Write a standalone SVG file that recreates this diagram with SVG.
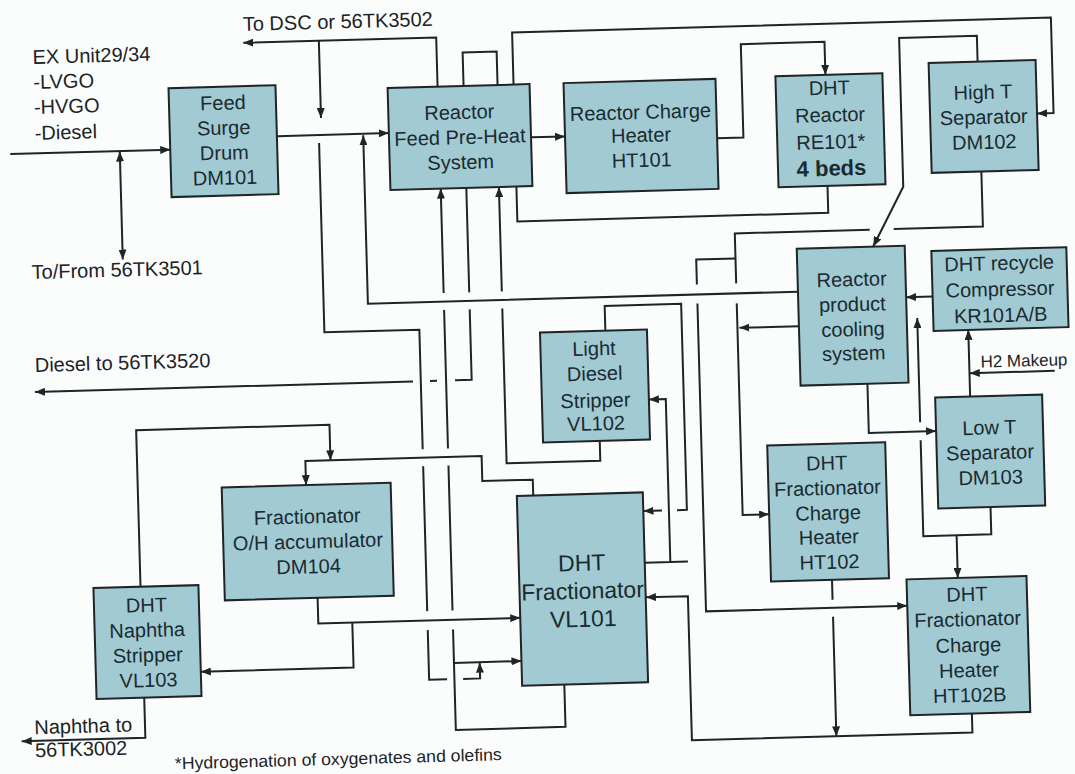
<svg xmlns="http://www.w3.org/2000/svg" width="1075" height="774" viewBox="0 0 1075 774">
<style>
.n{fill:#a1cad3;stroke:#1f2427;stroke-width:2}
.t{font-family:"Liberation Sans",Arial,sans-serif;font-size:20px;text-anchor:middle;fill:#1b2a30}
.l{font-family:"Liberation Sans",Arial,sans-serif;font-size:20px;fill:#1b2326}
.c path{fill:none;stroke:#1f2427;stroke-width:2}
.e{marker-end:url(#a)}
</style>
<defs>
<marker id="a" viewBox="0 0 10 8" refX="10" refY="4" markerWidth="10" markerHeight="8" markerUnits="userSpaceOnUse" orient="auto"><path d="M0,0L10,4L0,8z" fill="#1f2427"/></marker>
<marker id="s" viewBox="0 0 10 8" refX="10" refY="4" markerWidth="10" markerHeight="8" markerUnits="userSpaceOnUse" orient="auto-start-reverse"><path d="M0,0L10,4L0,8z" fill="#1f2427"/></marker>
</defs>
<rect width="1075" height="774" fill="#fbfcfc"/>
<g transform="rotate(-1.6 537 387)">
<g class="c" id="connectors">
<path class="e" d="M17,139.5H177"/>
<path d="M126.5,140V248" marker-start="url(#s)" marker-end="url(#s)"/>
<path class="e" d="M284.4,129H396"/>
<path class="e" d="M446,84V34.8H253"/>
<path class="e" d="M328.6,34.8V112"/>
<path d="M472,84V50.5H506V84"/>
<path class="e" d="M522,84V32H1061V127.5H1044.5"/>
<path class="e" d="M538,137.3H572"/>
<path class="e" d="M724,143.4H750.3V50H834V83"/>
<path d="M833,194V221H522V186"/>
<path class="e" d="M986.5,74V48.2H908.7V197L877,256"/>
<path class="e" d="M987.2,184V239H898M874,239H739V289M739,309V520.7H765.5"/>
<path class="e" d="M739,264H699.7V289M699.7,308V616H901"/>
<path class="e" d="M867.4,393V442.2H934.7"/>
<path class="e" d="M969.7,408.7V342"/>
<path class="e" d="M1055,385.3H970"/>
<path class="e" d="M935,307.7H908.5"/>
<path class="e" d="M987,519.7V547H919V451M919,433V328.7"/>
<path class="e" d="M952.3,547V589.6"/>
<path class="e" d="M800.5,333.5H741"/>
<path class="e" d="M800.5,299H370.3V130.5"/>
<path class="e" d="M826.5,588V608M826.5,625V744.5"/>
<path class="e" d="M962.6,725.6V744.5H682V600.3H640"/>
<path class="e" d="M556,685.3V727.5H446.3V627M446.3,608V463M446.3,446V307.5M446.3,290.5V186"/>
<path class="e" d="M446.3,660.5H513.8"/>
<path class="e" d="M471.9,186V290.5M471.9,307.5V378H455.2M437.2,378H430.2M413.2,378H35"/>
<path class="e" d="M598.2,442.6V462.4H504.5V307.5M504.5,290.5V186"/>
<path class="e" d="M606.9,332.6V307.9H683.4V514H673.5M658.5,514H640"/>
<path class="e" d="M640,565.6H683M665.4,565.6V402.7H648.5"/>
<path class="e" d="M326,137V326.4H421V446M421,463V608M421,627V676.7H439M455,676.7H472V661"/>
<path class="e" d="M530.2,495.3V479.5H479.7V454.5H303.4V478.6"/>
<path class="e" d="M135.1,575.6V419H328.5V454.5"/>
<path class="e" d="M311.8,591.6V617.3H513.8"/>
<path class="e" d="M345.8,617.3V662.3H193"/>
<path class="e" d="M135.7,686.6V726.8H12"/>
</g>
<g id="dm101"><rect class="n" x="177" y="78" width="107" height="109"/><text class="t" x="231"><tspan x="231" y="101">Feed</tspan><tspan x="231" y="126">Surge</tspan><tspan x="231" y="151">Drum</tspan><tspan x="231" y="176">DM101</tspan></text></g>
<g id="preheat"><rect class="n" x="396" y="84" width="142" height="102"/><text class="t"><tspan x="467" y="117">Reactor</tspan><tspan x="467" y="142">Feed Pre-Heat</tspan><tspan x="467" y="167">System</tspan></text></g>
<g id="ht101"><rect class="n" x="572" y="84" width="152" height="110"/><text class="t"><tspan x="648" y="122">Reactor Charge</tspan><tspan x="648" y="145">Heater</tspan><tspan x="648" y="170">HT101</tspan></text></g>
<g id="re101"><rect class="n" x="784" y="83" width="107" height="111"/><text class="t"><tspan x="837.5" y="103">DHT</tspan><tspan x="837.5" y="130">Reactor</tspan><tspan x="837.5" y="157">RE101*</tspan><tspan x="837.5" y="184" style="font-size:22px;font-weight:bold">4 beds</tspan></text></g>
<g id="dm102"><rect class="n" x="937.5" y="74" width="107" height="110"/><text class="t"><tspan x="991" y="111.5">High T</tspan><tspan x="991" y="136.5">Separator</tspan><tspan x="991" y="161.5">DM102</tspan></text></g>
<g id="cooling"><rect class="n" x="800.5" y="256" width="108" height="137"/><text class="t"><tspan x="854.5" y="295">Reactor</tspan><tspan x="854.5" y="320">product</tspan><tspan x="854.5" y="345">cooling</tspan><tspan x="854.5" y="369">system</tspan></text></g>
<g id="kr101"><rect class="n" x="935" y="262" width="135" height="80"/><text class="t"><tspan x="1002.5" y="283">DHT recycle</tspan><tspan x="1002.5" y="309">Compressor</tspan><tspan x="1002.5" y="335">KR101A/B</tspan></text></g>
<g id="dm103"><rect class="n" x="934.7" y="408.7" width="107" height="111"/><text class="t"><tspan x="988" y="447">Low T</tspan><tspan x="988" y="472">Separator</tspan><tspan x="988" y="497">DM103</tspan></text></g>
<g id="ht102"><rect class="n" x="765.5" y="452" width="118" height="136"/><text class="t"><tspan x="824.5" y="478">DHT</tspan><tspan x="824.5" y="503">Fractionator</tspan><tspan x="824.5" y="528">Charge</tspan><tspan x="824.5" y="552">Heater</tspan><tspan x="824.5" y="577">HT102</tspan></text></g>
<g id="ht102b"><rect class="n" x="901" y="589.6" width="120" height="136"/><text class="t"><tspan x="961" y="613">DHT</tspan><tspan x="961" y="638">Fractionator</tspan><tspan x="961" y="664">Charge</tspan><tspan x="961" y="689">Heater</tspan><tspan x="961" y="714">HT102B</tspan></text></g>
<g id="vl102"><rect class="n" x="541.5" y="332.6" width="107" height="110"/><text class="t"><tspan x="595" y="357">Light</tspan><tspan x="595" y="382">Diesel</tspan><tspan x="595" y="409">Stripper</tspan><tspan x="595" y="432">VL102</tspan></text></g>
<g id="vl101"><rect class="n" x="513.8" y="495.3" width="126" height="190"/><text class="t" style="font-size:23px"><tspan x="576.8" y="572">DHT</tspan><tspan x="576.8" y="600">Fractionator</tspan><tspan x="576.8" y="628">VL101</tspan></text></g>
<g id="dm104"><rect class="n" x="219" y="478.6" width="169" height="113"/><text class="t"><tspan x="303.7" y="517">Fractionator</tspan><tspan x="303.7" y="542">O/H accumulator</tspan><tspan x="303.7" y="567">DM104</tspan></text></g>
<g id="vl103"><rect class="n" x="88" y="575.6" width="105" height="111"/><text class="t"><tspan x="140.5" y="601">DHT</tspan><tspan x="140.5" y="626">Naphtha</tspan><tspan x="140.5" y="651">Stripper</tspan><tspan x="140.5" y="676">VL103</tspan></text></g>
<g id="labels">
<text class="l" x="253" y="23">To DSC or 56TK3502</text>
<text class="l" x="42" y="50">EX Unit29/34</text>
<text class="l" x="42" y="75">-LVGO</text>
<text class="l" x="42" y="100">-HVGO</text>
<text class="l" x="42" y="126">-Diesel</text>
<text class="l" x="35" y="265">To/From 56TK3501</text>
<text class="l" x="35.6" y="358">Diesel to 56TK3520</text>
<text class="l" x="25" y="720">Naphtha to</text>
<text class="l" x="25" y="743">56TK3002</text>
<text class="l" x="981" y="380" style="font-size:17px">H2 Makeup</text>
<text class="l" x="164.5" y="759" style="font-size:17px" textLength="327" lengthAdjust="spacingAndGlyphs">*Hydrogenation of oxygenates and olefins</text>
</g>
</g>
</svg>
